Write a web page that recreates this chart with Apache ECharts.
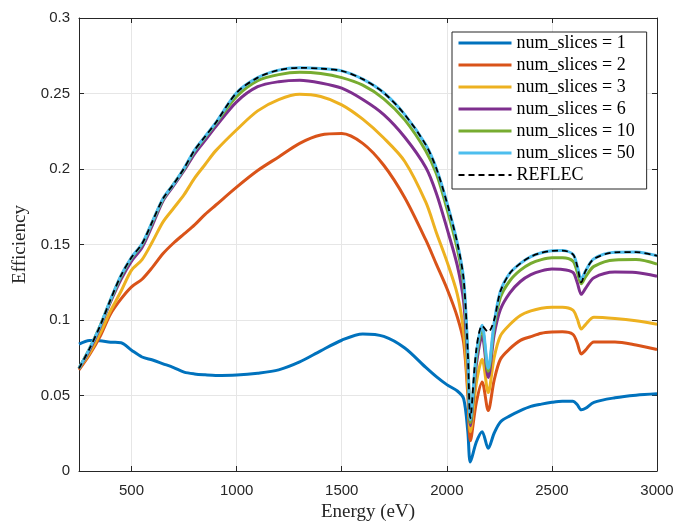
<!DOCTYPE html>
<html>
<head>
<meta charset="utf-8">
<script src="https://cdn.jsdelivr.net/npm/echarts@6/dist/echarts.min.js"></script>
<style>
  html, body { margin: 0; padding: 0; background: #fff; }
  #chart { width: 678px; height: 527px; }
</style>
</head>
<body>
<div id="chart"></div>
<script>
// energies (eV) shared by all curves
const energy = [250, 300, 350, 400, 450, 500, 550, 600, 650, 700, 750, 800, 850, 900, 1000, 1100, 1200, 1300, 1400, 1500, 1600, 1700, 1800, 1900, 1950, 2000, 2050, 2080, 2100, 2112, 2140, 2168, 2197, 2225, 2255, 2300, 2350, 2400, 2450, 2500, 2550, 2600, 2620, 2640, 2660, 2700, 2800, 2900, 3000]

// efficiency per number of slices
const eff1 = [0.084, 0.0865, 0.0863, 0.0853, 0.085, 0.080, 0.0755, 0.0735, 0.071, 0.0685, 0.0655, 0.0643, 0.0637, 0.0633, 0.0636, 0.0648, 0.067, 0.0722, 0.0796, 0.0866, 0.0908, 0.0892, 0.0815, 0.0686, 0.0625, 0.0572, 0.053, 0.048, 0.026, 0.006, 0.019, 0.026, 0.015, 0.025, 0.0325, 0.0365, 0.040, 0.0428, 0.0443, 0.0455, 0.0462, 0.0462, 0.044, 0.0405, 0.0415, 0.0455, 0.0485, 0.0502, 0.0511]
const eff2 = [0.067, 0.077, 0.089, 0.104, 0.114, 0.122, 0.127, 0.135, 0.144, 0.151, 0.157, 0.163, 0.170, 0.176, 0.188, 0.199, 0.208, 0.217, 0.2225, 0.2235, 0.217, 0.2025, 0.181, 0.153, 0.137, 0.121, 0.102, 0.085, 0.050, 0.020, 0.045, 0.059, 0.040, 0.060, 0.074, 0.081, 0.0865, 0.089, 0.0912, 0.092, 0.0922, 0.0905, 0.085, 0.0775, 0.080, 0.0855, 0.0855, 0.0835, 0.0805]
const eff3 = [0.068, 0.078, 0.091, 0.106, 0.119, 0.133, 0.140, 0.152, 0.165, 0.174, 0.183, 0.194, 0.203, 0.212, 0.226, 0.2385, 0.246, 0.2495, 0.248, 0.2425, 0.233, 0.2205, 0.205, 0.178, 0.158, 0.139, 0.117, 0.092, 0.055, 0.026, 0.058, 0.074, 0.052, 0.075, 0.0895, 0.097, 0.103, 0.106, 0.1078, 0.1085, 0.1085, 0.1065, 0.101, 0.094, 0.097, 0.1018, 0.101, 0.0995, 0.0972]
const eff6 = [0.068, 0.080, 0.095, 0.112, 0.127, 0.139, 0.148, 0.163, 0.179, 0.189, 0.199, 0.210, 0.219, 0.228, 0.2445, 0.2545, 0.2578, 0.2588, 0.257, 0.2535, 0.246, 0.236, 0.221, 0.201, 0.184, 0.161, 0.136, 0.112, 0.070, 0.030, 0.070, 0.0895, 0.062, 0.090, 0.107, 0.118, 0.1255, 0.130, 0.1325, 0.1337, 0.1335, 0.1315, 0.125, 0.117, 0.121, 0.128, 0.1318, 0.1315, 0.129]
const eff10 = [0.068, 0.081, 0.096, 0.113, 0.129, 0.141, 0.150, 0.165, 0.180, 0.190, 0.200, 0.212, 0.221, 0.230, 0.248, 0.2585, 0.2625, 0.264, 0.2632, 0.2605, 0.2555, 0.2465, 0.2325, 0.212, 0.197, 0.174, 0.147, 0.123, 0.075, 0.032, 0.074, 0.094, 0.066, 0.095, 0.115, 0.126, 0.133, 0.1375, 0.140, 0.1412, 0.1412, 0.139, 0.132, 0.124, 0.1285, 0.1355, 0.1398, 0.140, 0.137]
const eff50 = [0.068, 0.081, 0.096, 0.1135, 0.1295, 0.1415, 0.1505, 0.1655, 0.1805, 0.190, 0.2005, 0.2125, 0.2215, 0.2305, 0.2505, 0.2605, 0.2655, 0.267, 0.2665, 0.265, 0.2595, 0.2505, 0.236, 0.216, 0.2005, 0.178, 0.151, 0.127, 0.078, 0.034, 0.077, 0.0965, 0.068, 0.098, 0.119, 0.131, 0.1375, 0.142, 0.1445, 0.1458, 0.146, 0.1435, 0.136, 0.127, 0.1325, 0.1405, 0.1448, 0.145, 0.1425]
const reflec = [0.068, 0.081, 0.096, 0.1135, 0.1295, 0.1415, 0.1505, 0.1655, 0.1805, 0.190, 0.2005, 0.2125, 0.2215, 0.2305, 0.2505, 0.2605, 0.2655, 0.267, 0.2665, 0.265, 0.2595, 0.2505, 0.236, 0.216, 0.2005, 0.178, 0.151, 0.127, 0.078, 0.035, 0.080, 0.0962, 0.092, 0.100, 0.119, 0.131, 0.1375, 0.142, 0.1445, 0.1458, 0.146, 0.1435, 0.136, 0.125, 0.1325, 0.1405, 0.1448, 0.145, 0.1425]

// tick labels
const xTicks = [500, 1000, 1500, 2000, 2500, 3000]
const seriesNames = ['num_slices = 1', 'num_slices = 2', 'num_slices = 3', 'num_slices = 6', 'num_slices = 10', 'num_slices = 50', 'REFLEC']
const seriesColors = ['#0072BD', '#D95319', '#EDB120', '#7E2F8E', '#77AC30', '#4DBEEE', '#000000']

const axisColor = '#262626'
const gridColor = '#e6e6e6'

function pairs(ys) {
  return energy.map((e, i) => [e, ys[i]])
}

function lineStyleFor(i) {
  return i === 6
    ? { color: '#000', width: 1.8, type: [6, 4] }
    : { color: seriesColors[i], width: 3 }
}

const chart = echarts.init(document.getElementById('chart'))

const xBase = {
  type: 'value',
  min: 250,
  max: 3000,
  axisLine: { show: true, onZero: false, lineStyle: { color: axisColor, width: 1 } },
  axisTick: { show: true, inside: true, length: 5, customValues: xTicks, lineStyle: { color: axisColor } }
}
const yBase = {
  type: 'value',
  min: 0,
  max: 0.3,
  interval: 0.05,
  axisLine: { show: true, onZero: false, lineStyle: { color: axisColor, width: 1 } },
  axisTick: { show: true, inside: true, length: 5, lineStyle: { color: axisColor } }
}

const curves = [eff1, eff2, eff3, eff6, eff10, eff50, reflec]

const option = {
  animation: false,
  grid: { left: 79, right: 21, top: 18, bottom: 51, containLabel: false },
  legend: {
    orient: 'vertical',
    left: 452,
    top: 32,
    width: 190,
    backgroundColor: '#fff',
    borderColor: axisColor,
    borderWidth: 1,
    borderRadius: 0,
    padding: [2, 12, 5, 5],
    itemWidth: 53,
    itemHeight: 14,
    itemGap: 4,
    itemStyle: { opacity: 0 },
    textStyle: { fontFamily: 'Liberation Serif', fontSize: 18, lineHeight: 18, color: '#000' },
    data: seriesNames.map((n, i) => ({ name: n, lineStyle: lineStyleFor(i) }))
  },
  xAxis: [
    Object.assign({}, xBase, {
      position: 'bottom',
      name: 'Energy (eV)',
      nameLocation: 'middle',
      nameGap: 32,
      nameTextStyle: { fontFamily: 'Liberation Serif', fontSize: 19, color: axisColor },
      axisLabel: { show: true, customValues: xTicks, margin: 12, fontFamily: 'Liberation Sans', fontSize: 15, color: axisColor, formatter: (v) => String(v) },
      splitLine: { show: true, lineStyle: { color: gridColor, width: 1 } }
    }),
    Object.assign({}, xBase, {
      position: 'top',
      axisLabel: { show: false },
      splitLine: { show: false }
    })
  ],
  yAxis: [
    Object.assign({}, yBase, {
      position: 'left',
      name: 'Efficiency',
      nameLocation: 'middle',
      nameGap: 47,
      nameRotate: 90,
      nameTextStyle: { fontFamily: 'Liberation Serif', fontSize: 19, color: axisColor },
      axisLabel: { show: true, margin: 9, fontFamily: 'Liberation Sans', fontSize: 15, color: axisColor },
      splitLine: { show: true, lineStyle: { color: gridColor, width: 1 } }
    }),
    Object.assign({}, yBase, {
      position: 'right',
      axisLabel: { show: false },
      splitLine: { show: false }
    })
  ],
  series: curves.map((ys, i) => ({
    name: seriesNames[i],
    type: 'line',
    data: pairs(ys),
    showSymbol: false,
    symbol: 'none',
    smooth: 0.3,
    color: seriesColors[i],
    lineStyle: lineStyleFor(i),
    z: 2 + i
  }))
}

chart.setOption(option)
</script>
</body>
</html>
